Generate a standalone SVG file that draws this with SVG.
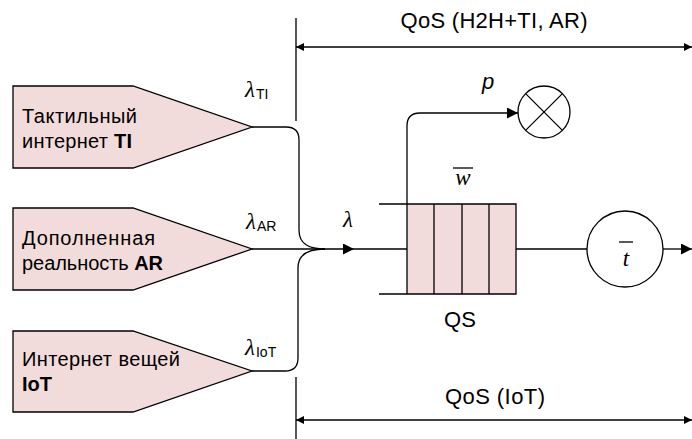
<svg xmlns="http://www.w3.org/2000/svg" width="692" height="439" viewBox="0 0 692 439">
<style>
.src{fill:#F2DCDB;stroke:#000;stroke-width:1.3}
.ln{fill:none;stroke:#000;stroke-width:1.3}
.t{font-family:"Liberation Sans",Arial,sans-serif;font-size:20px;fill:#000}
.b{font-weight:bold}
.lam{font-family:"Liberation Serif","DejaVu Serif",serif;font-style:italic;font-size:23px;fill:#000}
.sub{font-family:"Liberation Sans",Arial,sans-serif;font-size:14px;font-style:normal}
.math{font-family:"Liberation Serif","DejaVu Serif",serif;font-style:italic;font-size:23px;fill:#000}
.lbl{font-family:"Liberation Sans",Arial,sans-serif;font-size:22px;fill:#000}
</style>
<defs>
<marker id="ah" viewBox="0 0 10 10" refX="10" refY="5" markerWidth="17" markerHeight="11" markerUnits="userSpaceOnUse" orient="auto">
<path d="M0,0 L10,5 L0,10 z" fill="#000"/>
</marker>
<marker id="ad" viewBox="0 0 10 10" refX="10" refY="5" markerWidth="12" markerHeight="8" markerUnits="userSpaceOnUse" orient="auto-start-reverse">
<path d="M0,0 L10,5 L0,10 z" fill="#000"/>
</marker>
</defs>

<g id="connectors">
<path class="ln" d="M252,127 H286 Q299,127 299,140 V230 C299,245 310,249 325,249"/>
<path class="ln" d="M252,371 H285 Q298,371 298,358 V268 C298,253 310,249 325,249"/>
<path class="ln" d="M252,249 H354" marker-end="url(#ah)"/>
<path class="ln" d="M354,249 H407"/>
<path class="ln" d="M407,204 V126 Q407,113 420,113 H518" marker-end="url(#ah)"/>
<path class="ln" d="M516,249 H587"/>
<path class="ln" d="M663,249 H692" marker-end="url(#ah)"/>
</g>

<g id="node-TI">
<polygon class="src" points="13,86 133,86 252,127 133,168 13,168"/>
<text class="t" x="22" y="123" textLength="115" lengthAdjust="spacing">Тактильный</text>
<text class="t" x="22" y="148" textLength="110" lengthAdjust="spacing">интернет <tspan class="b">TI</tspan></text>
</g>
<g id="node-AR">
<polygon class="src" points="13,208 133,208 252,249 133,290 13,290"/>
<text class="t" x="22" y="245" textLength="133" lengthAdjust="spacing">Дополненная</text>
<text class="t" x="22" y="270" textLength="141" lengthAdjust="spacing">реальность <tspan class="b">AR</tspan></text>
</g>
<g id="node-IoT">
<polygon class="src" points="13,331 133,331 252,371 133,412 13,412"/>
<text class="t" x="22" y="366" textLength="158" lengthAdjust="spacing">Интернет вещей</text>
<text class="t" x="22" y="391"><tspan class="b">IoT</tspan></text>
</g>

<g id="labels-lambda">
<text class="lam" x="245" y="97">λ<tspan class="sub" dx="1" dy="2">TI</tspan></text>
<text class="lam" x="246" y="229">λ<tspan class="sub" dx="1" dy="2">AR</tspan></text>
<text class="lam" x="245" y="355">λ<tspan class="sub" dx="1" dy="2">IoT</tspan></text>
<text class="lam" x="343" y="227">λ</text>
</g>

<g id="node-queue">
<rect x="407" y="204" width="109" height="90" fill="#F2DCDB"/>
<path class="ln" d="M379,204 H516 V294 H379 M407,204 V294 M434,204 V294 M462,204 V294 M489,204 V294"/>
<text class="math" x="463" y="185" text-anchor="middle">w</text>
<line class="ln" x1="453" y1="168" x2="473" y2="168"/>
<text class="lbl" x="460" y="327" text-anchor="middle">QS</text>
</g>

<g id="node-loss">
<circle class="ln" cx="544" cy="112" r="26"/>
<path class="ln" d="M525.6,93.6 L562.4,130.4 M562.4,93.6 L525.6,130.4"/>
<text class="lbl" x="482" y="89" font-style="italic">p</text>
</g>

<g id="node-server">
<circle class="ln" cx="625" cy="249" r="38"/>
<text class="math" x="626" y="266" text-anchor="middle">t</text>
<line class="ln" x1="619" y1="242" x2="633" y2="242"/>
</g>

<g id="dimensions">
<path class="ln" d="M296,18 V121 M296,377 V439"/>
<path class="ln" d="M296,47 H692" marker-start="url(#ad)" marker-end="url(#ad)"/>
<path class="ln" d="M296,420 H692" marker-start="url(#ad)" marker-end="url(#ad)"/>
<text class="lbl" x="494" y="28" text-anchor="middle" textLength="187" lengthAdjust="spacing">QoS (H2H+TI, AR)</text>
<text class="lbl" x="495" y="404" text-anchor="middle" textLength="100" lengthAdjust="spacing">QoS (IoT)</text>
</g>
</svg>
